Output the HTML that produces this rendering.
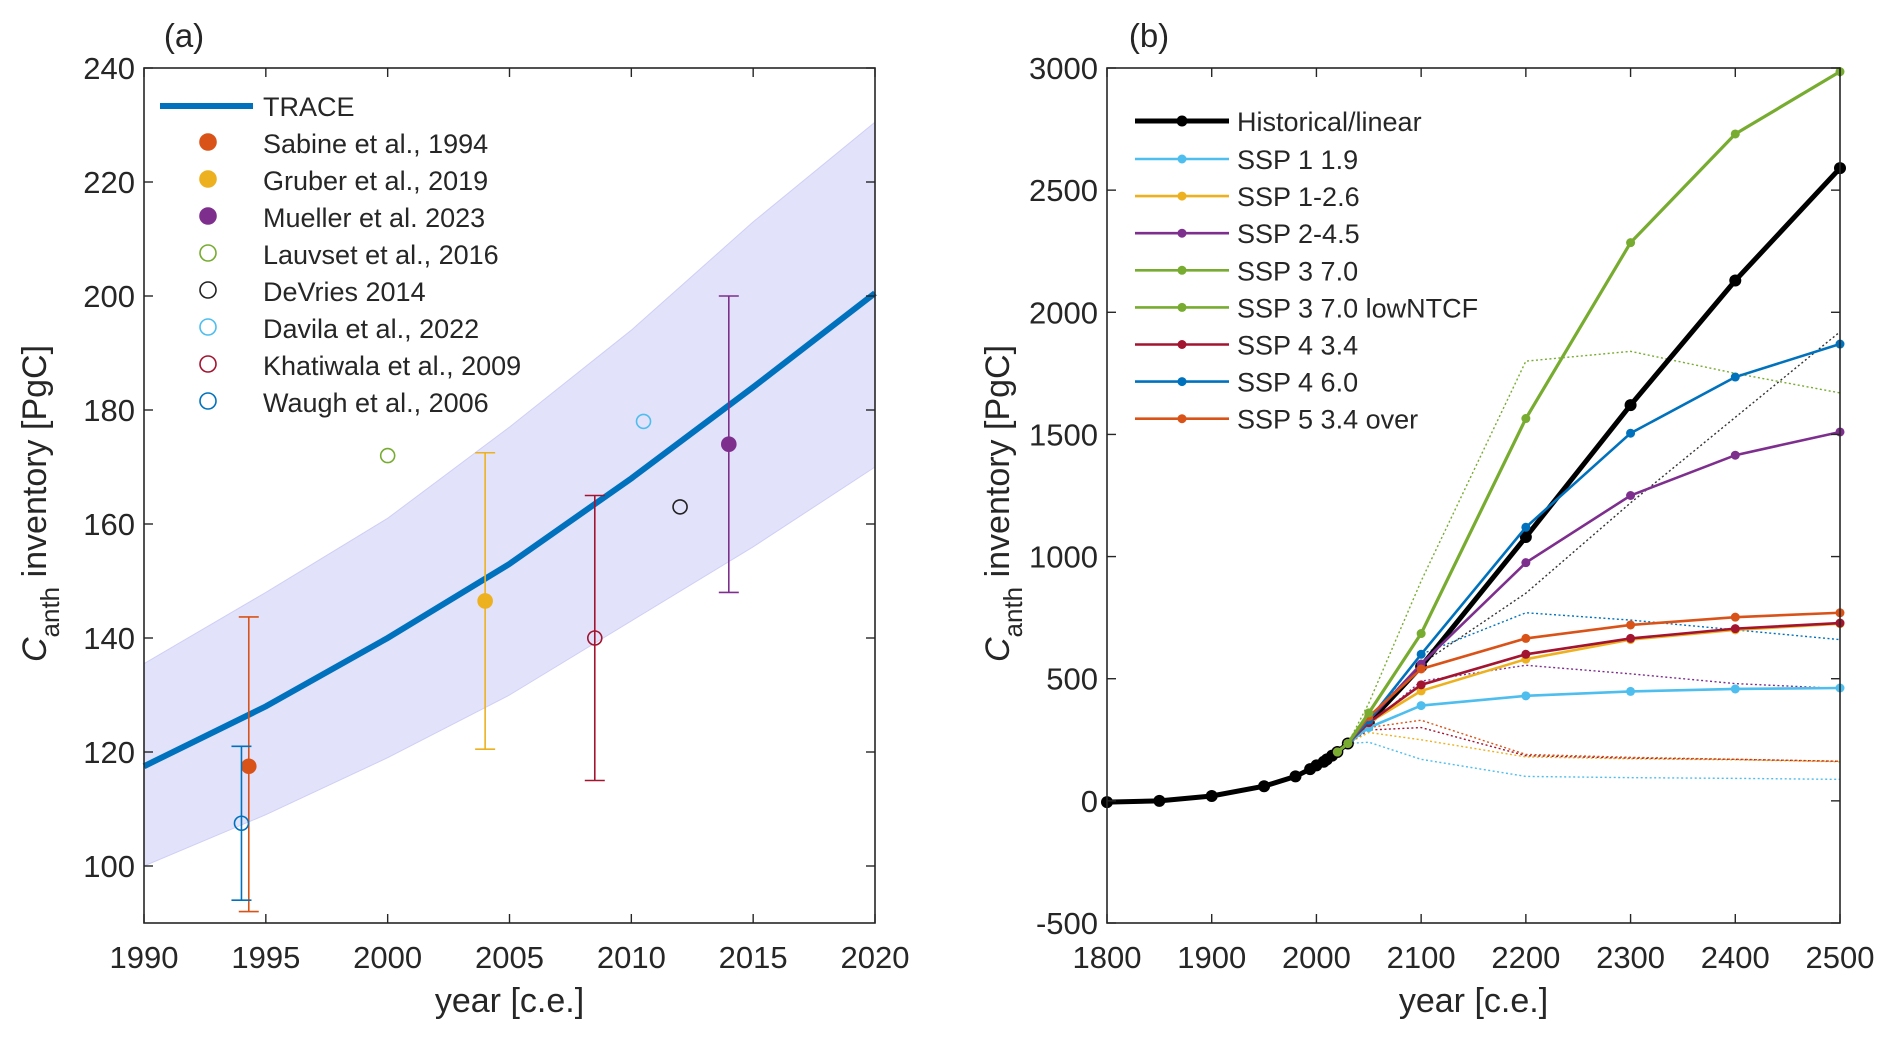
<!DOCTYPE html>
<html><head><meta charset="utf-8"><style>
html,body{margin:0;padding:0;background:#fff;}
svg{display:block;font-family:"Liberation Sans",Arial,sans-serif;}
</style></head><body>
<svg id="fig" width="1892" height="1042" viewBox="0 0 1892 1042" xmlns="http://www.w3.org/2000/svg">
<g id="pa"></g>
<g id="pb"></g>
</svg>
<script>
// ---------- Panel (a) data ----------
const traceYears = [1990,1995,2000,2005,2010,2015,2020];
const traceVals  = [117.5,128,140,153,168,184,200.5];
const bandUpper  = [135.5,148,161,177,194,213,230.5];
const bandLower  = [100,109,119,130,143,156,170];
const obsNames   = ["Sabine et al., 1994","Gruber et al., 2019","Mueller et al. 2023","Lauvset et al., 2016","DeVries 2014","Davila et al., 2022","Khatiwala et al., 2009","Waugh et al., 2006"];
const obsYears   = [1994.3,2004,2014,2000,2012,2010.5,2008.5,1994];
const obsVals    = [117.5,146.5,174,172,163,178,140,107.5];
const obsErrLo   = [92,120.5,148,null,null,null,115,94];
const obsErrHi   = [143.7,172.5,200,null,null,null,165,121];
const obsFilled  = [true,true,true,false,false,false,false,false];
const obsColors  = ["#D95319","#EDB120","#7E2F8E","#77AC30","#222222","#4DBEEE","#A2142F","#0072BD"];
const aXTicks = [1990,1995,2000,2005,2010,2015,2020];
const aYTicks = [100,120,140,160,180,200,220,240];

// ---------- Panel (b) data ----------
const histYears = [1800,1850,1900,1950,1980,1994,2000,2007,2010,2015,2020,2030,2050,2100,2200,2300,2400,2500];
const histVals  = [-5,0,20,60,100,130,145,160,170,185,200,235,320,550,1080,1620,2130,2590];
const sspYears  = [2020,2030,2050,2100,2200,2300,2400,2500];
const sspNames  = ["SSP 1 1.9","SSP 1-2.6","SSP 2-4.5","SSP 3 7.0","SSP 3 7.0 lowNTCF","SSP 4 3.4","SSP 4 6.0","SSP 5 3.4 over"];
const sspColors = ["#4DBEEE","#EDB120","#7E2F8E","#77AC30","#77AC30","#A2142F","#0072BD","#D95319"];
const ssp119 = [200,235,300,390,430,448,458,462];
const ssp126 = [200,235,320,450,580,660,700,725];
const ssp245 = [200,235,330,560,975,1250,1415,1510];
const ssp370 = [200,235,360,685,1565,2285,2730,2985];
const ssp370low = [200,235,360,685,1565,2285,2730,2985];
const ssp434 = [200,235,320,475,600,665,705,728];
const ssp460 = [200,235,330,600,1120,1505,1735,1870];
const ssp534 = [200,235,345,540,665,720,752,770];
const sspSeries = [ssp119,ssp126,ssp245,ssp370,ssp370low,ssp434,ssp460,ssp534];
const dotYears = [2030,2050,2100,2200,2300,2400,2500];
const dot119 = [235,240,170,100,95,92,88];
const dot126 = [235,280,250,180,172,168,160];
const dot245 = [235,310,490,555,520,480,460];
const dot370 = [235,400,900,1800,1840,1750,1670];
const dot434 = [235,290,300,185,175,170,162];
const dot460 = [235,320,600,770,740,700,660];
const dot534 = [235,300,330,190,178,170,162];
const dotLinear = [235,300,560,850,1220,1570,1920];
const dotSeries = [dot119,dot126,dot245,dot370,dot434,dot460,dot534,dotLinear];
const dotColors = ["#4DBEEE","#EDB120","#7E2F8E","#77AC30","#A2142F","#0072BD","#D95319","#333333"];
const bXTicks = [1800,1900,2000,2100,2200,2300,2400,2500];
const bYTicks = [-500,0,500,1000,1500,2000,2500,3000];

const NS="http://www.w3.org/2000/svg";
function mk(parent,tag,attrs,text){const e=document.createElementNS(NS,tag);for(const k in attrs)e.setAttribute(k,attrs[k]);if(text!==undefined)e.textContent=text;parent.appendChild(e);return e;}
function lin(d0,d1,r0,r1){return v=>r0+(v-d0)*(r1-r0)/(d1-d0);}

function axes(g,L,R,T,B,xt,yt,xs,ys,title,tx){
  const box=mk(g,'rect',{x:L,y:T,width:R-L,height:B-T,fill:'none',stroke:'#262626','stroke-width':1.6});
  
  
  xt.forEach(v=>{const x=xs(v);
    mk(g,'line',{x1:x,x2:x,y1:B,y2:B-9,stroke:'#262626','stroke-width':1.4});
    mk(g,'line',{x1:x,x2:x,y1:T,y2:T+9,stroke:'#262626','stroke-width':1.4});
    const t=mk(g,'text',{x:x,y:B+45,'text-anchor':'middle','font-size':31,fill:'#262626'},v);
    
    });
  yt.forEach(v=>{const y=ys(v);
    mk(g,'line',{x1:L,x2:L+9,y1:y,y2:y,stroke:'#262626','stroke-width':1.4});
    mk(g,'line',{x1:R,x2:R-9,y1:y,y2:y,stroke:'#262626','stroke-width':1.4});
    const t=mk(g,'text',{x:L-9,y:y+11,'text-anchor':'end','font-size':31,fill:'#262626'},v);
    
    });
  const xl=mk(g,'text',{x:(L+R)/2,y:1012,'text-anchor':'middle','font-size':34,fill:'#262626'},'year [c.e.]');
  
  
  const yl=mk(g,'text',{transform:`translate(${L-98},${(T+B)/2+8}) rotate(-90)`,'text-anchor':'middle','font-size':34,fill:'#262626'});
  
  
  mk(yl,'tspan',{'font-style':'italic'},'C');
  mk(yl,'tspan',{dy:13,'font-size':26},'anth');
  mk(yl,'tspan',{dy:-13},' inventory [PgC]');
  const pt=mk(g,'text',{x:tx,y:47,'text-anchor':'middle','font-size':33,fill:'#262626'},title);
  
  
}

// ----- Panel a -----
(function(){
const g=document.getElementById('pa');
const L=144,R=875,T=68,B=923;
const xs=lin(1990,2020,L,R), ys=lin(90,240,B,T);
let d='';
traceYears.forEach((y,i)=>{d+=(i?'L':'M')+xs(y)+','+ys(bandUpper[i]);});
for(let i=traceYears.length-1;i>=0;i--)d+='L'+xs(traceYears[i])+','+ys(bandLower[i]);
const band=mk(g,'path',{d:d+'Z',fill:'#e2e2fb',stroke:'#cfcff5','stroke-width':1});


let p='';traceYears.forEach((y,i)=>{p+=(i?'L':'M')+xs(y)+','+ys(traceVals[i]);});
const tl=mk(g,'path',{d:p,fill:'none',stroke:'#0072BD','stroke-width':6});


obsYears.forEach((yr,i)=>{
  const x=xs(yr),c=obsColors[i];
  if(obsErrLo[i]!==null){
    const eb=mk(g,'g',{stroke:c,'stroke-width':1.6});
    
    
    mk(eb,'line',{x1:x,x2:x,y1:ys(obsErrLo[i]),y2:ys(obsErrHi[i])});
    mk(eb,'line',{x1:x-10,x2:x+10,y1:ys(obsErrLo[i]),y2:ys(obsErrLo[i])});
    mk(eb,'line',{x1:x-10,x2:x+10,y1:ys(obsErrHi[i]),y2:ys(obsErrHi[i])});
  }
  const m=mk(g,'circle',{cx:x,cy:ys(obsVals[i]),r:7,fill:obsFilled[i]?c:'none',stroke:c,'stroke-width':1.6});
  
  
});
axes(g,L,R,T,B,aXTicks,aYTicks,xs,ys,'(a)',184);
const lg=mk(g,'g',{});


mk(lg,'line',{x1:160,x2:253,y1:106,y2:106,stroke:'#0072BD','stroke-width':6});
const t0=mk(lg,'text',{x:263,y:116,'font-size':27,fill:'#262626'},'TRACE');


obsNames.forEach((n,i)=>{const y=144+i*37;
  mk(lg,'circle',{cx:208,cy:y-2,r:8,fill:obsFilled[i]?obsColors[i]:'none',stroke:obsColors[i],'stroke-width':1.6});
  const t=mk(lg,'text',{x:263,y:y+9,'font-size':27,fill:'#262626'},n);
  
  });
})();

// ----- Panel b -----
(function(){
const g=document.getElementById('pb');
const L=1107,R=1840,T=68,B=923;
const xs=lin(1800,2500,L,R), ys=lin(-500,3000,B,T);
function path(xa,va){let p='';xa.forEach((x,i)=>{p+=(i?'L':'M')+xs(x)+','+ys(va[i]);});return p;}
dotSeries.forEach((s,i)=>{
  const e=mk(g,'path',{d:path(dotYears,s),fill:'none',stroke:dotColors[i],'stroke-width':1.4,'stroke-dasharray':'2,2.5'});
  
  });
const hl=mk(g,'path',{d:path(histYears,histVals),fill:'none',stroke:'#000','stroke-width':5});


histYears.forEach((y,i)=>{const c=mk(g,'circle',{cx:xs(y),cy:ys(histVals[i]),r:6,fill:'#000'});
  
  });
[0,1,2,5,6,7,3].forEach(i=>{
  const s=sspSeries[i];
  const e=mk(g,'path',{d:path(sspYears,s),fill:'none',stroke:sspColors[i],'stroke-width':i==3?3.2:2.6});
  
  
  sspYears.forEach((y,j)=>{const c=mk(g,'circle',{cx:xs(y),cy:ys(s[j]),r:4.5,fill:sspColors[i]});
    
    });
});
axes(g,L,R,T,B,bXTicks,bYTicks,xs,ys,'(b)',1149);
const lg=mk(g,'g',{});


mk(lg,'line',{x1:1135,x2:1229,y1:121,y2:121,stroke:'#000','stroke-width':5});
mk(lg,'circle',{cx:1182,cy:121,r:5.5,fill:'#000'});
const t0=mk(lg,'text',{x:1237,y:131,'font-size':27,fill:'#262626'},'Historical/linear');


sspNames.forEach((n,i)=>{const y=159+i*37.1;
  mk(lg,'line',{x1:1135,x2:1229,y1:y,y2:y,stroke:sspColors[i],'stroke-width':2.6});
  mk(lg,'circle',{cx:1182,cy:y,r:4.5,fill:sspColors[i]});
  const t=mk(lg,'text',{x:1237,y:y+10,'font-size':27,fill:'#262626'},n);
  
  });
})();
</script>
</body></html>
